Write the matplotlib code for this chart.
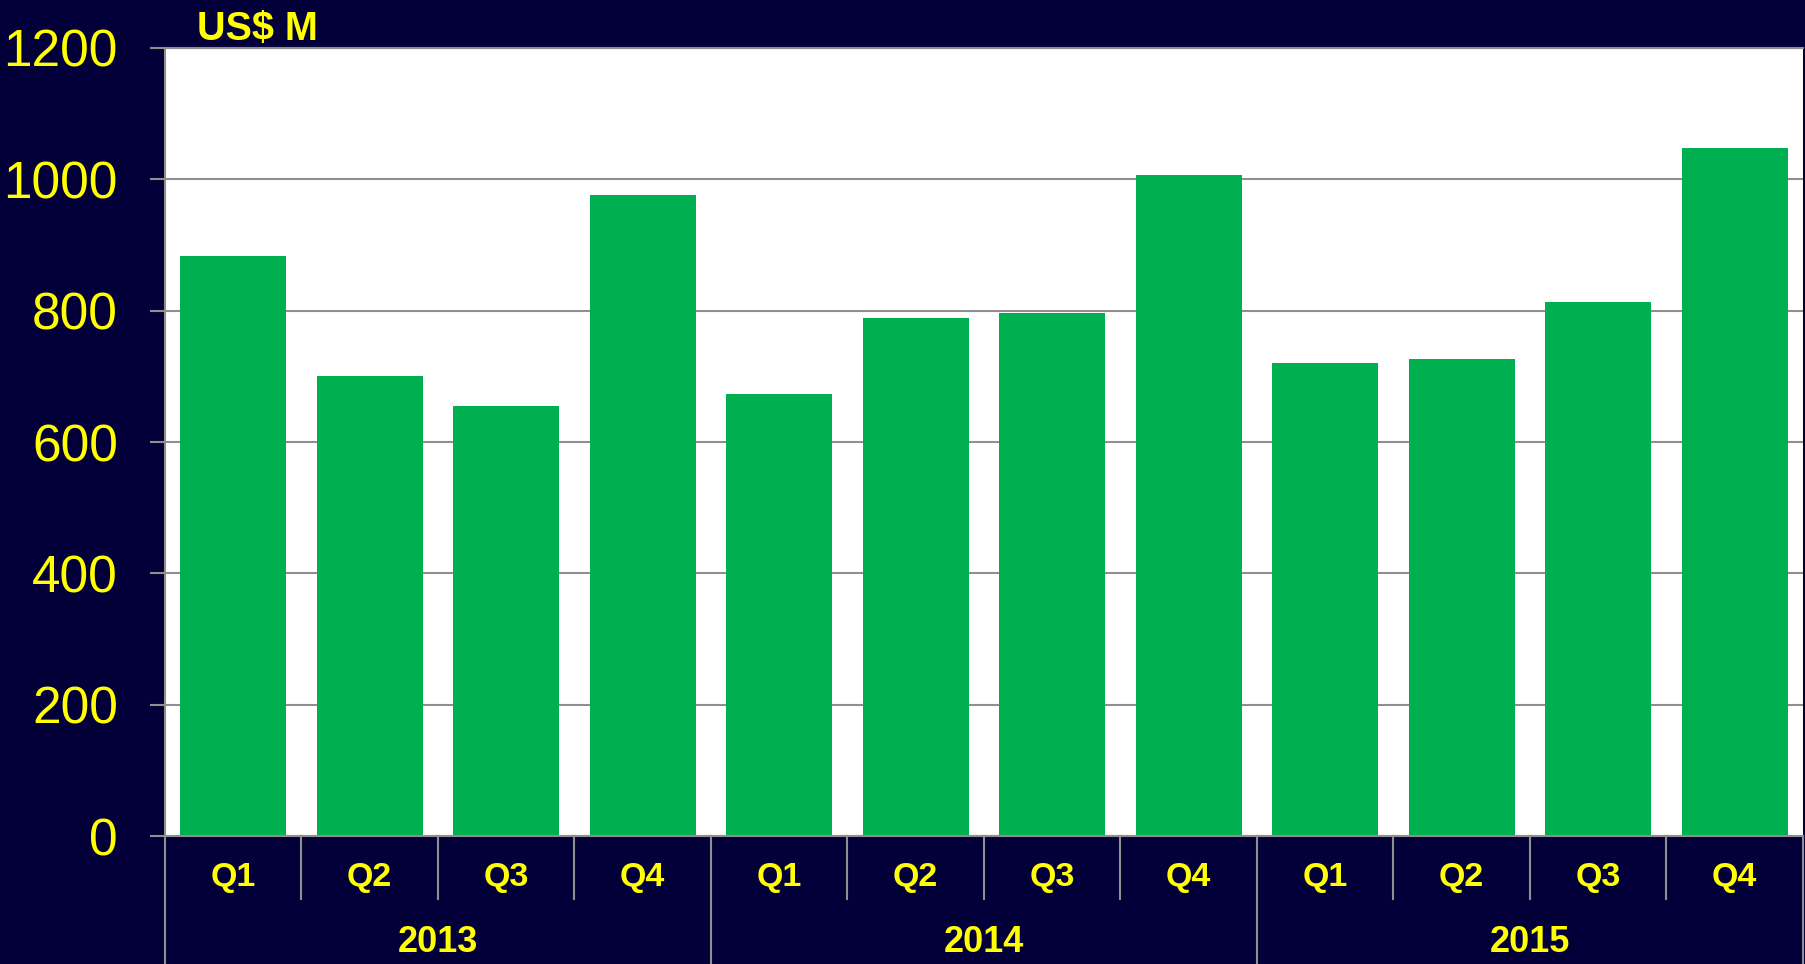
import matplotlib.pyplot as plt
import numpy as np

plt.rcParams['font.family'] = ['Liberation Sans', 'DejaVu Sans']

years = ['2013', '2014', '2015']
quarters = ['Q1', 'Q2', 'Q3', 'Q4']
values_2013 = [883, 701, 655, 976]
values_2014 = [673, 789, 797, 1006]
values_2015 = [720, 726, 813, 1047]
yticks = [0, 200, 400, 600, 800, 1000, 1200]

navy = '#030039'; green = '#00B050'; yellow = '#FFFF00'; grey = '#8f8f8f'

values = values_2013 + values_2014 + values_2015
labels = quarters * len(years)
x = np.arange(len(values))

fig = plt.figure(figsize=(18.06, 9.64), dpi=100, facecolor=navy)
ax = fig.add_axes([165/1806, 128/964, 1638/1806, 788/964])
ax.set_facecolor('white')

ax.bar(x, values, width=0.78, color=green, zorder=2)

ax.set_xlim(-0.5, len(values) - 0.5)
ax.set_ylim(0, 1200)
ax.set_yticks(yticks)
ax.set_yticklabels([str(v) for v in yticks])
ax.yaxis.grid(True, color=grey, linewidth=1.5, zorder=1)
ax.tick_params(axis='y', length=11, width=1.5, color=grey, pad=23,
               labelsize=37, labelcolor=yellow)
ax.set_xticks([])

for s in ['left', 'bottom', 'top']:
    ax.spines[s].set_color(grey)
    ax.spines[s].set_linewidth(1.5)
ax.spines['right'].set_visible(False)

# category axis below the plot
trans = ax.get_xaxis_transform()
for i in range(len(values) + 1):
    bottom = -0.163 if i % 4 == 0 else -0.08
    ax.plot([i - 0.5, i - 0.5], [0, bottom], color=grey, linewidth=1.5,
            transform=trans, clip_on=False)
for i, lab in enumerate(labels):
    ax.text(i, -0.053, lab, transform=trans, ha='center', va='center',
            color=yellow, fontsize=24.5, fontweight='bold')
for j, yr in enumerate(years):
    ax.text(4 * j + 1.5, -0.135, yr, transform=trans, ha='center', va='center',
            color=yellow, fontsize=26, fontweight='bold')

fig.text(197/1806, 1 - 29/964, 'US$ M', ha='left', va='center',
         color=yellow, fontsize=28.5, fontweight='bold')

plt.savefig('out.png', dpi=100, facecolor=navy)
